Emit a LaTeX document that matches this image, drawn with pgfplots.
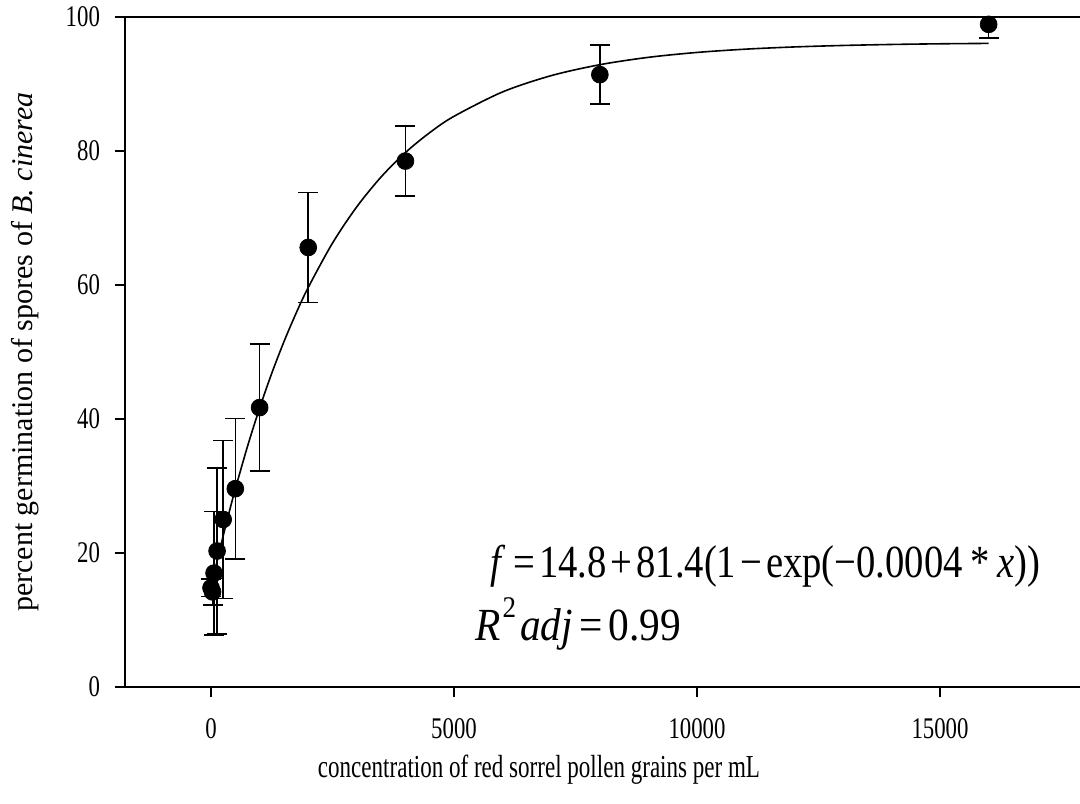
\documentclass[border=0pt]{standalone}
\usepackage{fontspec}
\setmainfont{Liberation Serif}[FakeStretch=0.76]
\newfontfamily\ylabfont{Liberation Serif}
\newfontfamily\xlabfont{Liberation Serif}[FakeStretch=0.72]
\newfontfamily\eqfont{Liberation Serif}[FakeStretch=0.84]
\newfontfamily\rfont{Liberation Serif}[FakeStretch=0.9]
\usepackage{pgfplots}
\usepackage{pgfplotstable}
\pgfplotsset{compat=1.18}
\pgfplotstableread{
x y ep em
0 14.8 1.3 1.3
31.25 14.2 2.0 2.0
62.5 17.0 9.2 9.2
125 20.3 12.4 12.4
250 25.0 11.8 11.8
500 29.6 10.5 10.5
1000 41.7 9.5 9.5
2000 65.6 8.2 8.2
4000 78.5 5.2 5.2
8000 91.4 4.4 4.4
16000 98.9 1.1 2.0
}\datatable
\begin{document}
\begin{tikzpicture}
\useasboundingbox (-62.5pt,-58pt) rectangle (477.5pt,343.5pt);
\begin{axis}[
 at={(0,0)}, anchor=south west, scale only axis,
 width=477.5pt, height=335pt,
 xmin=-1770, xmax=17880, ymin=0, ymax=100,
 axis lines=left, axis line style={-, line width=1pt, black},
 xtick={0,5000,10000,15000}, ytick={0,20,40,60,80,100},
 tick align=outside, major tick length=5pt,
 tick style={line width=1pt, black},
 scaled x ticks=false,
 /pgf/number format/1000 sep={},
 /pgf/number format/assume math mode=true,
 ticklabel style={font=\fontsize{15}{17}\selectfont},
 xticklabel style={yshift=-7pt},
 yticklabel style={xshift=-4pt},
 xlabel={concentration of red sorrel pollen grains per mL},
 ylabel={percent germination of spores of \textit{B. cinerea}},
 xlabel style={at={(axis description cs:0.4335,-0.123)}, anchor=center, font=\xlabfont\fontsize{16}{18}\selectfont},
 ylabel style={at={(axis description cs:-0.1047,0.5)}, anchor=center, rotate=0, font=\ylabfont\fontsize{15}{17}\selectfont},
]
\addplot[black, line width=0.8pt, smooth] coordinates {
(0,14.80) (100,17.99) (200,21.06) (300,24.01) (400,26.84) (500,29.56)
(750,35.90) (1000,41.64) (1250,46.83) (1500,51.53) (1750,55.78) (2000,59.63)
(2500,66.26) (3000,71.68) (3500,76.13) (4000,79.77) (4500,82.74) (5000,85.18)
(6000,88.82) (7000,91.25) (8000,92.88) (9000,93.98) (10000,94.71) (11000,95.20)
(12000,95.53) (13000,95.75) (14000,95.90) (15000,96.00) (16000,96.06)
};
\addplot[only marks, mark=*, mark size=4.2pt, mark options={fill=black, draw=black},
 error bars/.cd, y dir=both, y explicit,
 error bar style={line width=0.8pt, black},
 error mark options={rotate=90, mark size=5pt, line width=0.8pt, black}]
 table[x=x, y=y, y error plus=ep, y error minus=em] {\datatable};
\node[anchor=base west, font=\eqfont\fontsize{23}{27}\selectfont, inner sep=0pt] at (axis cs:5741,16.3)
 {\textit{f}\,=\kern2pt14.8\kern2pt+\kern2pt81.4(1\kern2pt−\kern2pt exp(−0.0004\,*\,\textit{x}))};
\node[anchor=base west, font=\rfont\fontsize{23}{27}\selectfont, inner sep=0pt] at (axis cs:5432,7.0)
 {\textit{R}\kern1pt\raisebox{0.5em}{\fontsize{15}{15}\selectfont 2}\kern2pt\textit{adj}\kern3pt=\kern3pt0.99};
\end{axis}
\draw[line width=1pt] (0,335pt) -- (477.5pt,335pt);
\end{tikzpicture}
\end{document}
